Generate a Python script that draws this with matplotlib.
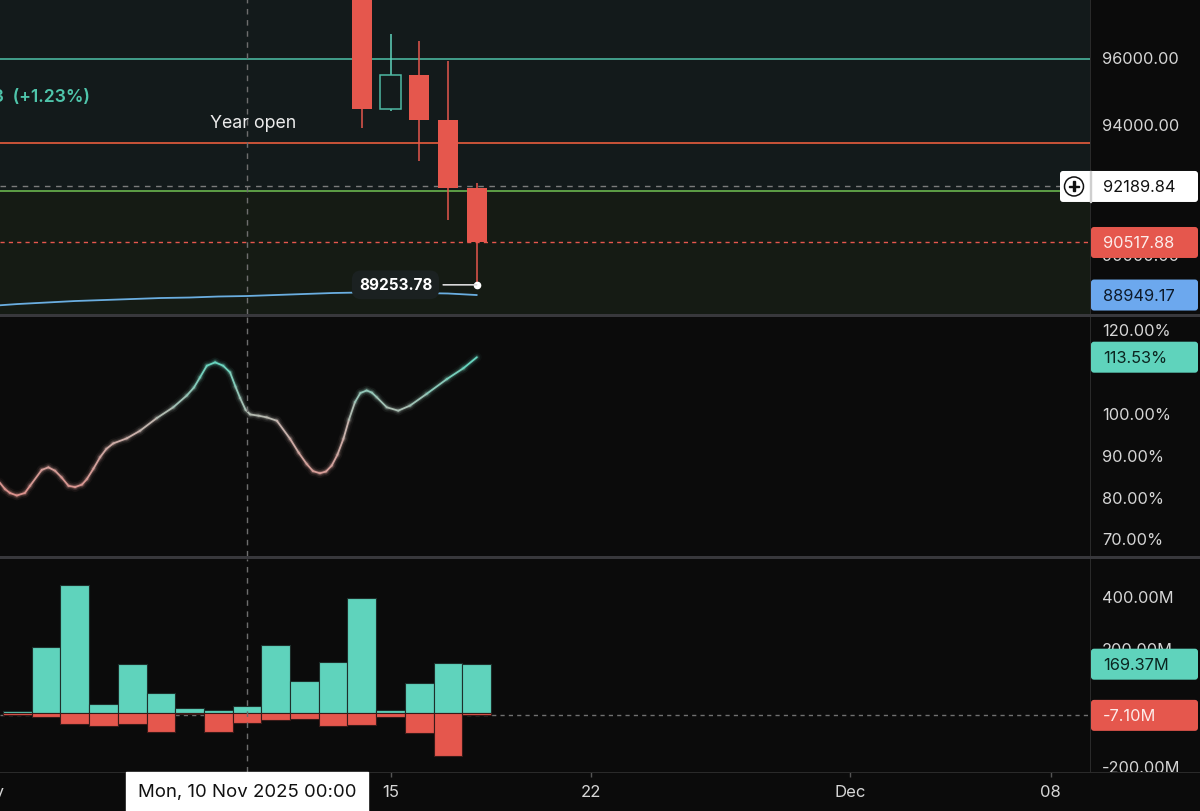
import numpy as np
import pandas as pd
import matplotlib
matplotlib.use('Agg')
import matplotlib.pyplot as plt
from matplotlib.patches import Rectangle, FancyBboxPatch, Circle
from matplotlib.collections import LineCollection
from matplotlib.colors import LinearSegmentedColormap
from matplotlib.transforms import IdentityTransform, blended_transform_factory, offset_copy

plt.rcParams['font.family'] = ['Inter', 'DejaVu Sans']

# ---- data ----
candle_dates = pd.to_datetime(['2025-11-14', '2025-11-15', '2025-11-16', '2025-11-17', '2025-11-18'])
c_open = [99690, 94500, 95520, 94175, 92150]
c_high = [99860, 96740, 96535, 95935, 92295]
c_low = [93935, 94450, 92950, 91190, 89253.78]
c_close = [94500, 95520, 94175, 92150, 90517.88]

ma_dates = pd.date_range('2025-11-01', '2025-11-18')
ma_values = [88620, 88680, 88725, 88770, 88800, 88830, 88860, 88875, 88905,
             88920, 88950, 88980, 89010, 89025, 89025, 89010, 88995, 88949.17]

level_teal = 95990
level_year_open = 93490
level_green = 92040
last_price = 90517.88
cross_price = 92189.84

# oscillator (day of November, percent)
osc_day = [1.38, 1.57, 1.74, 1.98, 2.26, 2.44, 2.85, 3.08, 3.31, 3.54, 3.78, 4.01, 4.25, 4.42,
           4.65, 4.88, 5.10, 5.34, 5.81, 6.27, 6.85, 7.43, 7.90, 8.15, 8.36, 8.60, 8.89, 9.17,
           9.41, 9.60, 9.76, 9.95, 10.11, 10.40, 10.69, 11.04, 11.50, 11.80, 12.08, 12.30,
           12.54, 12.75, 12.95, 13.15, 13.36, 13.55, 13.76, 13.95, 14.17, 14.35, 14.52,
           14.87, 15.27, 15.68, 16.26, 16.96, 17.54, 18.01]
osc_val = [83.7, 82.1, 81.2, 80.6, 81.2, 82.9, 86.7, 87.3, 86.5, 84.9, 82.9, 82.6, 83.2, 84.5,
           87.0, 89.7, 91.7, 93.0, 94.2, 96.0, 99.0, 101.6, 104.4, 106.3, 108.7, 111.5, 112.3, 111.5,
           109.9, 106.5, 103.8, 101.0, 99.9, 99.6, 99.2, 98.4, 94.1, 90.8, 88.1, 86.4,
           85.9, 86.3, 87.7, 90.3, 94.1, 98.6, 102.8, 105.0, 105.6, 105.1, 104.0,
           101.6, 100.8, 102.0, 104.8, 108.3, 110.9, 113.53]

# volume delta histogram (millions)
hist_dates = pd.date_range('2025-11-02', '2025-11-18')
buy_vol = [6.9, 227.6, 442, 31, 171, 69, 19.5, 10, 24, 237, 110, 178, 399, 10, 106, 172, 169.37]
sell_vol = [-4.6, -13.8, -36.8, -42.5, -37.9, -65.5, -1.0, -63, -34.5, -23, -20.7, -43.7,
            -39, -11.5, -69, -146, -7.10]

cross_date = pd.Timestamp('2025-11-10')
x_ticks = pd.to_datetime(['2025-11-15', '2025-11-22', '2025-12-01', '2025-12-08'])
x_labels = ['15', '22', 'Dec', '08']

# ---- colours ----
BG = '#0b0b0b'
RED = '#e5574d'
TEAL = '#5fd3bc'
TXT = '#d6d6d6'
GRID = '#2a2a2a'

fig = plt.figure(figsize=(12, 8.12), dpi=100, facecolor=BG)
W, H = 1200, 812
def pane(top, bottom):
    return fig.add_axes([0, (H - bottom) / H, 1090 / W, (bottom - top) / H])

ax1 = pane(0, 315)
ax2 = pane(318, 557)
ax3 = pane(560, 773)

xmin = cross_date - pd.Timedelta(days=247 / 28.7)
xmax = cross_date + pd.Timedelta(days=843 / 28.7)
for ax in (ax1, ax2, ax3):
    ax.set_facecolor(BG)
    ax.set_xlim(xmin, xmax)
    for s in ax.spines.values():
        s.set_visible(False)
    ax.set_yticks([])
    ax.tick_params(axis='x', which='both', bottom=False, labelbottom=False)
    ax.axvline(cross_date, color='#6e6e6e', lw=1, dashes=(4, 4), zorder=8)

ax1.set_ylim(88383, 97786)
ax2.set_ylim(66.19, 123.10)
ax3.set_ylim(-202.4, 532.1)

# ---- pane 1: price ----
ax1.axhspan(level_green, 200000, color='#131a1b', zorder=0)
ax1.axhspan(0, level_green, color='#151b14', zorder=0)
ax1.axhline(level_teal, color='#45a893', lw=1.3, zorder=2)
ax1.axhline(level_year_open, color='#d8573b', lw=1.3, zorder=2)
ax1.axhline(level_green, color='#63a94a', lw=1.3, zorder=2)
ax1.axhline(cross_price, color='#7c7c7c', lw=1, dashes=(4, 4), zorder=3)
ax1.axhline(last_price, color=RED, lw=1, dashes=(3, 3), zorder=3)
ax1.plot(ma_dates, ma_values, color='#6aaee0', lw=1.3, zorder=4)

for d, o, h, l, c in zip(candle_dates, c_open, c_high, c_low, c_close):
    col = TEAL if c >= o else RED
    ax1.vlines(d, max(o, c), h, color=col, lw=1.1, zorder=5)
    ax1.vlines(d, l, min(o, c), color=col, lw=1.1, zorder=5)
    if c >= o:
        ax1.bar(d, c - o, bottom=o, width=0.7, facecolor='none', edgecolor='#4fb8a4', lw=1.1, zorder=6)
    else:
        ax1.bar(d, c - o, bottom=o, width=0.7, color=col, lw=0, zorder=6)

ax1.annotate('Year open', xy=(253 / 1090, level_year_open), xycoords=('axes fraction', 'data'),
             xytext=(0, 14.5), textcoords='offset points', ha='center', va='center',
             color='#ececec', fontsize=12.8, zorder=7)
ax1.text(90 / 1090, 1 - 97 / 315, '1,173.43  (+1.23%)', transform=ax1.transAxes,
         ha='right', va='center', color='#4fc5ab', fontsize=12.6, fontweight='semibold')
ax1.plot(candle_dates[-1], c_low[-1], 'o', color='white', ms=4.5, zorder=9)
ax1.annotate(f'{c_low[-1]:.2f}', xy=(candle_dates[-1], c_low[-1]), xytext=(-32, 0),
             textcoords='offset points', ha='right', va='center', color='white',
             fontsize=11, fontweight='bold', zorder=9,
             bbox=dict(boxstyle='round,pad=0.45,rounding_size=0.6', fc='#1b2121', ec='none'),
             arrowprops=dict(arrowstyle='-', color='#d8d8d8', lw=1.2, shrinkA=3, shrinkB=0))

# ---- pane 2: oscillator with glow ----
osc_t = pd.Timestamp('2025-11-01') + pd.to_timedelta(np.array(osc_day) - 1, unit='D')
xs = matplotlib.dates.date2num(osc_t)
pts = np.column_stack([xs, osc_val])
segs = np.stack([pts[:-1], pts[1:]], axis=1)
mid = (np.array(osc_val[:-1]) + np.array(osc_val[1:])) / 2
cmap = LinearSegmentedColormap.from_list('osc', ['#dc8f8a', '#c8b3ad', '#62d7c0'])
norm = plt.Normalize(80, 113)
for lw, a in [(7, 0.04), (4.5, 0.09), (2.8, 0.18), (1.3, 1.0)]:
    lc = LineCollection(segs, colors=cmap(norm(mid)), linewidths=lw, alpha=a,
                        capstyle='round', joinstyle='round', zorder=5)
    ax2.add_collection(lc)

# ---- pane 3: histogram ----
ax3.axhline(sell_vol[-1], color='#707070', lw=1, dashes=(3, 3), zorder=1)
ax3.bar(hist_dates, buy_vol, width=1.0, color=TEAL, edgecolor='#1d2f2b', lw=0.8, zorder=3)
ax3.bar(hist_dates, sell_vol, width=1.0, color=RED, edgecolor='#3a1a18', lw=0.8, zorder=3)

# ---- time axis ----
ax3.set_xticks(x_ticks)
ax3.set_xticklabels(x_labels)
ax3.tick_params(axis='x', bottom=True, labelbottom=True, length=3.5, width=1, color='#555555',
                labelcolor=TXT, labelsize=12, pad=5)
ax3.text(pd.Timestamp('2025-11-01'), -0.092, 'Nov', transform=blended_transform_factory(ax3.transData, ax3.transAxes),
         ha='center', va='center', color=TXT, fontsize=12, clip_on=False)

# ---- right price scale labels (those hidden behind value boxes are left out) ----
def scale_labels(ax, values, fmt, lift=None):
    tr = blended_transform_factory(ax.transAxes, ax.transData)
    lift = lift or {}
    for v in values:
        t = offset_copy(tr, fig=fig, x=0, y=lift.get(v, 0), units='dots')
        ax.text(1 + 12 / 1090, v, fmt(v), transform=t, ha='left', va='center',
                color=TXT, fontsize=11.8, clip_on=False, zorder=1)

scale_labels(ax1, [90000, 94000, 96000], lambda v: f'{v:.2f}', lift={90000: 4})
scale_labels(ax2, [70, 80, 90, 100, 120], lambda v: f'{v:.2f}%')
scale_labels(ax3, [-200, 200, 400], lambda v: f'{v:.2f}M', lift={-200: 4, 200: 6})

# ---- frame lines ----
def px_rect(x, y_top, w, h, color, z=20):
    fig.add_artist(Rectangle((x, H - y_top - h), w, h, transform=IdentityTransform(),
                             color=color, zorder=z, lw=0))

px_rect(1090, 0, 1, 773, GRID)
px_rect(0, 773, 1200, 1, GRID)
px_rect(0, 315, 1200, 3, '#38383c')
px_rect(0, 557, 1200, 3, '#38383c')

# ---- last value boxes ----
def value_box(ax, value, text, face, tcolor, left=1091, right=1198, h=31):
    yp = ax.transData.transform((0, value))[1]
    fig.add_artist(FancyBboxPatch((left, yp - h / 2), right - left, h,
                                  boxstyle='round,pad=0,rounding_size=3', transform=IdentityTransform(),
                                  fc=face, ec='none', zorder=30))
    fig.text(1103, yp, text, transform=IdentityTransform(), ha='left', va='center',
             color=tcolor, fontsize=11.8, zorder=31)
    return yp

value_box(ax1, last_price, f'{last_price:.2f}', RED, '#fdecea')
value_box(ax1, ma_values[-1], f'{ma_values[-1]:.2f}', '#6ca8ee', '#0d1a2a')
yc = value_box(ax1, cross_price, f'{cross_price:.2f}', 'white', '#111111', left=1060)
fig.add_artist(Rectangle((1090, yc - 15.5), 1, 31, transform=IdentityTransform(), color='#cfcfcf', zorder=31))
fig.add_artist(Circle((1074, yc), 9.5, transform=IdentityTransform(), fc='white', ec='#111111', lw=1.1, zorder=32))
fig.add_artist(Rectangle((1069, yc - 0.6), 10, 1.2, transform=IdentityTransform(), color='#111111', zorder=33))
fig.add_artist(Rectangle((1073.4, yc - 5), 1.2, 10, transform=IdentityTransform(), color='#111111', zorder=33))
value_box(ax2, osc_val[-1], f'{osc_val[-1]:.2f}%', TEAL, '#0b2520')
value_box(ax3, buy_vol[-1], f'{buy_vol[-1]:.2f}M', TEAL, '#0b2520')
value_box(ax3, sell_vol[-1], f'{sell_vol[-1]:.2f}M', RED, '#fdecea')

# crosshair time label
xc = ax3.transData.transform((matplotlib.dates.date2num(cross_date), 0))[0]
fig.add_artist(Rectangle((xc - 121, 0), 242, 39, transform=IdentityTransform(), color='white', zorder=30))
fig.text(xc, 19, cross_date.strftime('%a, %d Nov %Y %H:%M'), transform=IdentityTransform(),
         ha='center', va='center', color='#111111', fontsize=13.4, zorder=31)

fig.savefig('out.png', facecolor=BG)
